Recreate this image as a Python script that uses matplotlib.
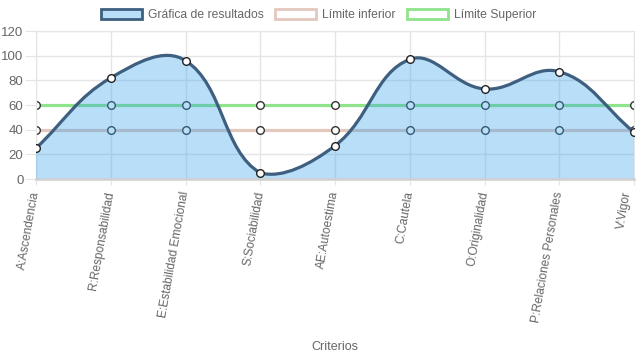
import numpy as np
import matplotlib
matplotlib.use('AGG')
import matplotlib.pyplot as plt
from matplotlib.path import Path
from matplotlib.patches import PathPatch, Rectangle

plt.rcParams['font.family'] = ['Liberation Sans', 'DejaVu Sans']

# chart data
criterios = ['A:Ascendencia', 'R:Responsabilidad', 'E:Estabilidad Emocional',
             'S:Sociabilidad', 'AE:Autoestima', 'C:Cautela', 'O:Originalidad',
             'P:Relaciones Personales', 'V:Vigor']
resultados = [25, 82, 96, 5, 27, 97, 73, 87, 38]
limite_inferior = [40, 40, 40, 40, 40, 40, 40, 40, 40]
limite_superior = [60, 60, 60, 60, 60, 60, 60, 60, 60]
y_ticks = [0, 20, 40, 60, 80, 100, 120]

GRAY = '#666666'
GRID = '#e5e5e5'
LINE = '#3e5f80'
FILL = (54 / 255, 162 / 255, 235 / 255, 0.35)
INF = '#e3c8bd'
SUP = '#8fe38a'

W, H = 637, 359
fig = plt.figure(figsize=(W / 100, H / 100), dpi=100)
ax = fig.add_axes([36 / W, 1 - 179 / H, (634 - 36) / W, 148 / H])

n = len(criterios)
x = np.arange(n)
ax.set_xlim(0, n - 1)
ax.set_ylim(0, 120)


def spline_path(xs, ys, tension=0.4):
    # Chart.js style bezier with tension, control points clamped to chart area
    pts = np.column_stack([xs, ys]).astype(float)
    pix = ax.transData.transform(pts)
    ctrl_prev, ctrl_next = [], []
    for i in range(len(pts)):
        p0 = pts[max(i - 1, 0)]
        p2 = pts[min(i + 1, len(pts) - 1)]
        q0 = pix[max(i - 1, 0)]
        q1 = pix[i]
        q2 = pix[min(i + 1, len(pts) - 1)]
        d01 = np.hypot(*(q1 - q0))
        d12 = np.hypot(*(q2 - q1))
        tot = d01 + d12
        s01 = d01 / tot if tot else 0
        s12 = d12 / tot if tot else 0
        fa, fb = tension * s01, tension * s12
        cp = pts[i] - fa * (p2 - p0)
        cn = pts[i] + fb * (p2 - p0)
        cp[1] = np.clip(cp[1], 0, 120)
        cn[1] = np.clip(cn[1], 0, 120)
        cp[0] = np.clip(cp[0], 0, n - 1)
        cn[0] = np.clip(cn[0], 0, n - 1)
        ctrl_prev.append(cp)
        ctrl_next.append(cn)
    verts = [pts[0]]
    codes = [Path.MOVETO]
    for i in range(1, len(pts)):
        verts += [ctrl_next[i - 1], ctrl_prev[i], pts[i]]
        codes += [Path.CURVE4] * 3
    return verts, codes


# limit lines (under the fill)
for vals, col in [(limite_inferior, INF), (limite_superior, SUP)]:
    ax.plot(x, vals, color=col, lw=2.3, zorder=2, solid_capstyle='butt')
    ax.plot(x, vals, 'o', ms=5.5, mfc='white', mec='#333333', mew=1, zorder=2.5)

verts, codes = spline_path(x, resultados)
fill_verts = verts + [(n - 1, 0), (0, 0), verts[0]]
fill_codes = codes + [Path.LINETO, Path.LINETO, Path.CLOSEPOLY]
ax.add_patch(PathPatch(Path(fill_verts, fill_codes), facecolor=FILL,
                       edgecolor='none', zorder=3))
ax.add_patch(PathPatch(Path(verts, codes), facecolor='none', edgecolor=LINE,
                       lw=2.3, zorder=4))
ax.plot(x, resultados, 'o', ms=5.5, mfc='white', mec='#222222', mew=1, zorder=5)

# axes styling
ax.set_yticks(y_ticks)
ax.set_xticks(x)
ax.set_xticklabels([])
# rotated category labels, drawn by hand so the last one stays inside the canvas
for i, lab in enumerate(criterios):
    dx = -4.5 if i == n - 1 else 0
    ax.annotate(lab, xy=(x[i], 0), xycoords=ax.get_xaxis_transform(),
                xytext=(dx, -9), textcoords='offset points', rotation=80,
                ha='right', va='center', rotation_mode='anchor',
                color=GRAY, fontsize=8.6, annotation_clip=False)
ax.tick_params(axis='x', length=4, color=GRID)
ax.tick_params(axis='y', length=8, color=GRID, labelcolor=GRAY, labelsize=9.5, pad=1)
ax.grid(True, color=GRID, lw=1, zorder=0)
ax.set_axisbelow(True)
for s in ['top', 'right', 'left']:
    ax.spines[s].set_color(GRID)
ax.spines['bottom'].set_color('#d0d0d0')
ax.spines['bottom'].set_linewidth(1.8)
ax.spines['bottom'].set_zorder(3.5)
ax.set_xlabel('Criterios', color=GRAY, fontsize=9)
ax.xaxis.set_label_coords(0.5, -(341 - 179) / 148)

handles = [Rectangle((0, 0), 1, 1, facecolor=FILL, edgecolor=LINE, lw=2),
           Rectangle((0, 0), 1, 1, facecolor='white', edgecolor=INF, lw=2),
           Rectangle((0, 0), 1, 1, facecolor='white', edgecolor=SUP, lw=2)]
fig.legend(handles, ['Gráfica de resultados', 'Límite inferior', 'Límite Superior'],
           loc='center', bbox_to_anchor=(0.5, 1 - 15 / H), ncol=3, frameon=False,
           fontsize=8.7, labelcolor=GRAY, handlelength=3.4, handleheight=0.95,
           columnspacing=0.9, handletextpad=0.5)

fig.savefig('out.png', dpi=100)
